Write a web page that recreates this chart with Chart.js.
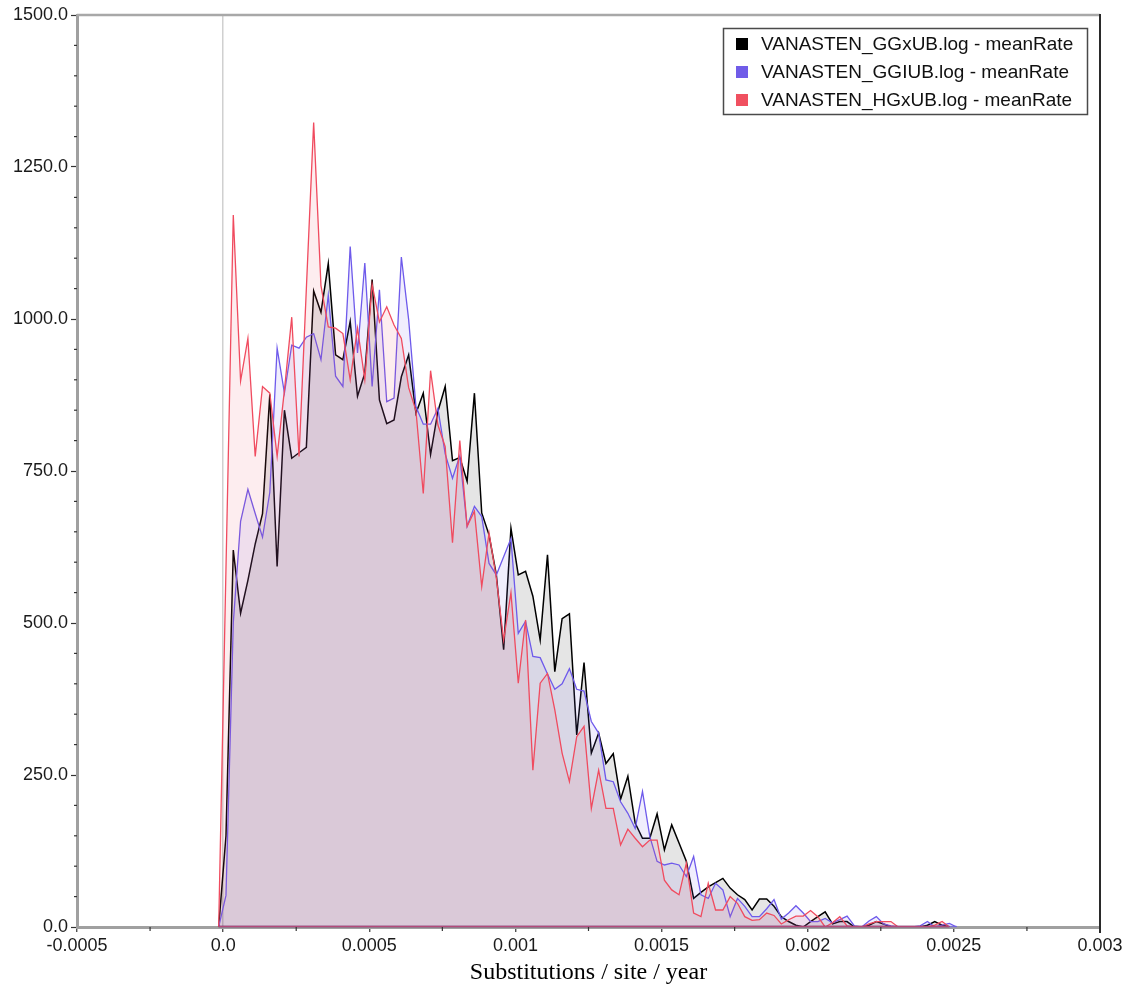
<!DOCTYPE html>
<html>
<head>
<meta charset="utf-8">
<script src="https://cdn.jsdelivr.net/npm/chart.js@4.4.1/dist/chart.umd.min.js"></script>
<style>
  html, body { margin: 0; padding: 0; background: #ffffff; }
  canvas { display: block; }
</style>
</head>
<body>
<canvas id="c" width="1130" height="991"></canvas>
<script>
// ---- data ----
const seriesNames = [
  'VANASTEN_GGxUB.log - meanRate',
  'VANASTEN_GGIUB.log - meanRate',
  'VANASTEN_HGxUB.log - meanRate'
];
// histogram bins: centre of first bin and bin width (substitutions/site/year)
const binStart = -0.0000153;
const binWidth = 0.000025;

const ggxubFreq = [
  0, 150, 620, 516, 570, 630, 680, 876, 593, 850,
  771, 780, 789, 1046, 1011, 1091, 941, 933, 996, 873,
  911, 1065, 867, 828, 834, 905, 941, 845, 878, 777,
  848, 889, 767, 772, 733, 878, 681, 645, 579, 456,
  656, 579, 585, 544, 472, 612, 420, 507, 515, 316,
  435, 286, 319, 269, 285, 210, 248, 171, 146, 146,
  186, 127, 168, 138, 108, 47, 57, 66, 73, 80,
  64, 53, 45, 28, 46, 46, 34, 17, 9, 3,
  0, 9, 17, 25, 5, 9, 9, 0, 0, 3,
  9, 5, 0, 0, 0, 0, 0, 3, 9, 3,
  0
];
const ggiubFreq = [
  0, 52, 500, 667, 720, 680, 641, 715, 952, 878,
  957, 952, 970, 976, 933, 1039, 906, 889, 1119, 944,
  1092, 889, 1048, 864, 870, 1102, 999, 856, 827, 827,
  853, 778, 738, 775, 659, 692, 675, 598, 579, 609,
  639, 483, 503, 445, 443, 416, 391, 400, 425, 391,
  388, 338, 319, 242, 239, 206, 187, 162, 223, 149,
  108, 102, 105, 102, 83, 116, 53, 47, 72, 61,
  17, 47, 34, 17, 17, 30, 45, 13, 23, 35,
  23, 9, 9, 14, 7, 12, 18, 2, 0, 10,
  17, 5, 2, 0, 0, 0, 2, 9, 0, 3,
  6, 0
];
const hgxubFreq = [
  0, 590, 1171, 898, 968, 774, 889, 878, 774, 883,
  1003, 774, 1050, 1323, 1055, 987, 985, 976, 900, 985,
  900, 1057, 995, 1020, 990, 968, 887, 849, 713, 915,
  826, 790, 632, 800, 659, 684, 560, 648, 574, 472,
  550, 401, 505, 258, 401, 417, 357, 286, 239, 313,
  330, 195, 258, 195, 195, 135, 161, 146, 132, 143,
  143, 77, 61, 53, 105, 23, 17, 72, 28, 28,
  50, 39, 17, 11, 12, 23, 19, 5, 12, 18,
  18, 27, 17, 0, 7, 17, 2, 0, 0, 5,
  9, 9, 9, 0, 0, 0, 0, 0, 3, 9,
  0
];
const xTickLabels = ['-0.0005', '0.0', '0.0005', '0.001', '0.0015', '0.002', '0.0025', '0.003'];
const yTickLabels = ['0.0', '250.0', '500.0', '750.0', '1000.0', '1250.0', '1500.0'];
const xAxisTitle = 'Substitutions / site / year';

// ---- styles ----
const lineColors = ['#000000', 'rgb(110,90,235)', 'rgb(240,75,95)'];
const fillColors = ['rgba(0,0,0,0.10)', 'rgba(110,90,240,0.10)', 'rgba(240,80,100,0.10)'];
const legendColors = ['#000000', 'rgb(112,92,232)', 'rgb(240,80,96)'];

const nBins = Math.max(ggxubFreq.length, ggiubFreq.length, hgxubFreq.length);
const binCentres = [];
for (let i = 0; i < nBins; i++) binCentres.push(binStart + binWidth * i);

function pts(vals) { return vals.map((v, i) => ({ x: binCentres[i], y: v })); }

const allSeries = [ggxubFreq, ggiubFreq, hgxubFreq];

const decor = {
  id: 'decor',
  afterDatasetsDraw(chart) {
    const ctx = chart.ctx;
    const xs = chart.scales.x, ys = chart.scales.y;
    const y0 = ys.getPixelForValue(0);
    ctx.save();
    allSeries.forEach((vals, k) => {
      const a = xs.getPixelForValue(binCentres[0]);
      const b = xs.getPixelForValue(binCentres[vals.length - 1]);
      ctx.strokeStyle = lineColors[k];
      ctx.globalAlpha = 0.6;
      ctx.lineWidth = 1.4;
      ctx.beginPath();
      ctx.moveTo(a, y0 - 0.5);
      ctx.lineTo(b, y0 - 0.5);
      ctx.stroke();
    });
    ctx.restore();
  },
  afterDraw(chart) {
    const ctx = chart.ctx;
    const ca = chart.chartArea;
    const xs = chart.scales.x, ys = chart.scales.y;
    ctx.save();
    // top frame line
    ctx.strokeStyle = '#a8a8a8';
    ctx.lineWidth = 2.5;
    ctx.beginPath();
    ctx.moveTo(ca.left, ca.top);
    ctx.lineTo(ca.right, ca.top);
    ctx.stroke();
    // right frame line
    ctx.strokeStyle = '#2a2a2a';
    ctx.lineWidth = 2;
    ctx.beginPath();
    ctx.moveTo(ca.right, ca.top - 1);
    ctx.lineTo(ca.right, ca.bottom + 6);
    ctx.stroke();
    // minor ticks
    ctx.strokeStyle = '#333';
    ctx.lineWidth = 1.2;
    const xt = xs.ticks.map(t => t.value);
    for (let i = 0; i < xt.length - 1; i++) {
      const m = xs.getPixelForValue((xt[i] + xt[i + 1]) / 2);
      ctx.beginPath();
      ctx.moveTo(m, ca.bottom);
      ctx.lineTo(m, ca.bottom + 4);
      ctx.stroke();
    }
    const yt = ys.ticks.map(t => t.value);
    for (let i = 0; i < yt.length - 1; i++) {
      for (let s = 1; s < 5; s++) {
        const m = ys.getPixelForValue(yt[i] + (yt[i + 1] - yt[i]) * s / 5);
        ctx.beginPath();
        ctx.moveTo(ca.left - 3, m);
        ctx.lineTo(ca.left, m);
        ctx.stroke();
      }
    }
    // legend
    const bw = 364, bh = 86;
    const bx = ca.right - 13 - bw, by = ca.top + 13;
    ctx.fillStyle = '#ffffff';
    ctx.fillRect(bx, by, bw, bh);
    ctx.strokeStyle = '#4a4a4a';
    ctx.lineWidth = 1.5;
    ctx.strokeRect(bx + 0.5, by + 0.5, bw, bh);
    ctx.font = '19px "Liberation Sans", Arial, sans-serif';
    ctx.textBaseline = 'middle';
    ctx.textAlign = 'left';
    seriesNames.forEach((name, k) => {
      const cy = by + 16 + k * 28;
      ctx.fillStyle = legendColors[k];
      ctx.fillRect(bx + 13, cy - 6, 12, 12);
      ctx.fillStyle = '#111';
      ctx.fillText(name, bx + 38, cy + 1);
    });
    ctx.restore();
  }
};

Chart.defaults.font.family = '"Liberation Sans", Arial, sans-serif';

new Chart(document.getElementById('c'), {
  type: 'line',
  data: {
    datasets: [
      { label: seriesNames[0], data: pts(ggxubFreq), borderColor: lineColors[0], backgroundColor: fillColors[0], borderWidth: 1.5, order: 3 },
      { label: seriesNames[1], data: pts(ggiubFreq), borderColor: lineColors[1], backgroundColor: fillColors[1], borderWidth: 1.3, order: 2 },
      { label: seriesNames[2], data: pts(hgxubFreq), borderColor: lineColors[2], backgroundColor: fillColors[2], borderWidth: 1.3, order: 1 }
    ].map(d => Object.assign(d, { fill: 'origin', pointRadius: 0, tension: 0 }))
  },
  options: {
    responsive: false,
    animation: false,
    devicePixelRatio: 1,
    layout: { padding: { top: 15, right: 30, left: 0, bottom: 0 } },
    plugins: { legend: { display: false }, tooltip: { enabled: false } },
    scales: {
      x: {
        type: 'linear',
        min: -0.0005,
        max: 0.003,
        afterFit(s) { s.height = 64; s.paddingLeft = 0; s.paddingRight = 0; },
        ticks: {
          stepSize: 0.0005,
          autoSkip: false,
          maxRotation: 0,
          padding: 3,
          color: '#1a1a1a',
          font: { size: 18 },
          callback: (v, i) => xTickLabels[i]
        },
        grid: {
          drawOnChartArea: true,
          color: c => (c.tick && Math.abs(c.tick.value) < 1e-10) ? '#d0d0d0' : 'rgba(0,0,0,0)',
          lineWidth: 1.5,
          tickColor: '#333',
          tickLength: 5,
          tickWidth: 1.2
        },
        border: { display: true, color: '#a0a0a0', width: 3 },
        title: {
          display: true,
          text: xAxisTitle,
          color: '#000',
          font: { family: '"Liberation Serif", "Times New Roman", serif', size: 24 },
          padding: { top: 0, bottom: 4 }
        }
      },
      y: {
        min: 0,
        max: 1500,
        afterFit(s) { s.width = 77; },
        ticks: {
          stepSize: 250,
          padding: 3,
          color: '#1a1a1a',
          font: { size: 18 },
          callback: (v, i) => yTickLabels[i]
        },
        grid: {
          drawOnChartArea: false,
          tickColor: '#333',
          tickLength: 6,
          tickWidth: 1.2
        },
        border: { display: true, color: '#a0a0a0', width: 3 }
      }
    }
  },
  plugins: [decor]
});
</script>
</body>
</html>
